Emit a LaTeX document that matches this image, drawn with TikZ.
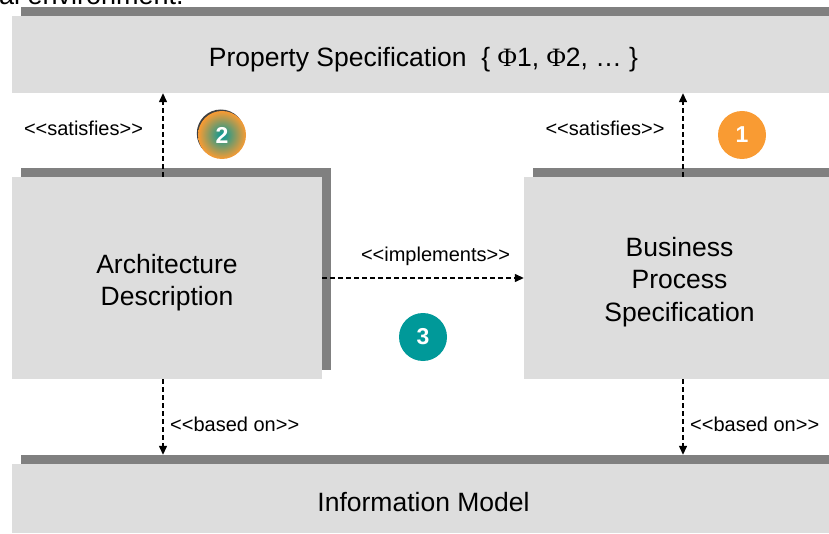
\documentclass[tikz,border=0pt]{standalone}
\usepackage{fontspec}
\setmainfont{Liberation Sans}
\newfontfamily\phifont{Liberation Serif}
\usetikzlibrary{arrows.meta,shadows}
\definecolor{boxgray}{HTML}{DDDDDD}
\definecolor{shadegray}{HTML}{808080}
\definecolor{accentorange}{HTML}{F99B33}
\definecolor{accentteal}{HTML}{009999}
% UML-style stereotype brackets written as plain angle brackets
\newcommand\stereo[1]{<\kern0pt<#1>\kern0pt>}
\begin{document}
\begin{tikzpicture}[x=1pt,y=-1pt,
  block/.style={rectangle, fill=boxgray, inner sep=0pt,
    drop shadow={shadow xshift=9pt, shadow yshift=9pt, opacity=1, fill=shadegray}},
  blocktext/.style={inner sep=0pt, align=center,
    font=\fontsize{26.5}{32.5}\selectfont},
  dep/.style={line width=1.3pt, dash pattern=on 5pt off 3pt,
    -{Triangle[length=9pt,width=8pt]}},
  lbl/.style={inner sep=0pt, font=\fontsize{20}{24}\selectfont},
  badge/.style={circle, minimum size=48pt, inner sep=0pt, text=white,
    font=\fontsize{23}{23}\bfseries\selectfont}]
\useasboundingbox (0,0) rectangle (829,534);
\clip (0,0) rectangle (829,534);

% tail of the caption line above the figure
\node[anchor=base west, inner sep=0pt, font=\fontsize{27}{27}\selectfont] (caption) at (-1,5) {al environment.};

% blocks
\node[block, minimum width=823pt, minimum height=77pt] (prop) at (423.5,54.5) {};
\node[block, minimum width=310pt, minimum height=202pt] (arch) at (167,278) {};
\node[block, minimum width=311pt, minimum height=202pt] (bp) at (679.5,278) {};
\node[block, minimum width=823pt, minimum height=69pt] (info) at (423.5,498.5) {};

% block titles
\node[blocktext] (propT) at ([yshift=-5pt]prop.center)
  {Property Specification\ \ \{ {\phifont Φ}1, {\phifont Φ}2, … \}};
\node[blocktext] (archT) at ([yshift=-4.5pt]arch.center) {Architecture\\Description};
\node[blocktext] (bpT) at ([yshift=-4pt]bp.center) {Business\\Process\\Specification};
\node[blocktext] (infoT) at ([yshift=-4pt]info.center) {Information Model};

% dependency connectors
\coordinate (lx) at (163,0);
\coordinate (rx) at (683,0);
\coordinate (infotop) at ([yshift=9pt]info.north);
\draw[dep] (arch.north -| lx) -- (prop.south -| lx);
\draw[dep] (bp.north -| rx) -- (prop.south -| rx);
\draw[dep] (arch) -- (bp);
\draw[dep] (arch.south -| lx) -- (infotop -| lx);
\draw[dep] (bp.south -| rx) -- (infotop -| rx);

% connector labels
\node[lbl] (satL) at (83.5,128) {\stereo{satisfies}};
\node[lbl] (satR) at (605,128) {\stereo{satisfies}};
\node[lbl] (impl) at (435.5,256) {\stereo{implements}};
\node[lbl, anchor=west] (basedL) at (170,424) {\stereo{based on}};
\node[lbl, anchor=west] (basedR) at (690,424) {\stereo{based on}};

% numbered badges
\node[badge, fill=accentorange] (b1) at (742,135) {1};
\node[badge, inner color=accentteal, outer color=accentorange,
  drop shadow={shadow xshift=-1.2pt, shadow yshift=1.5pt, opacity=1, fill=black!75}]
  (b2) at (222,135) {2};
\node[badge, fill=accentteal] (b3) at (423,337) {3};
\end{tikzpicture}
\end{document}
